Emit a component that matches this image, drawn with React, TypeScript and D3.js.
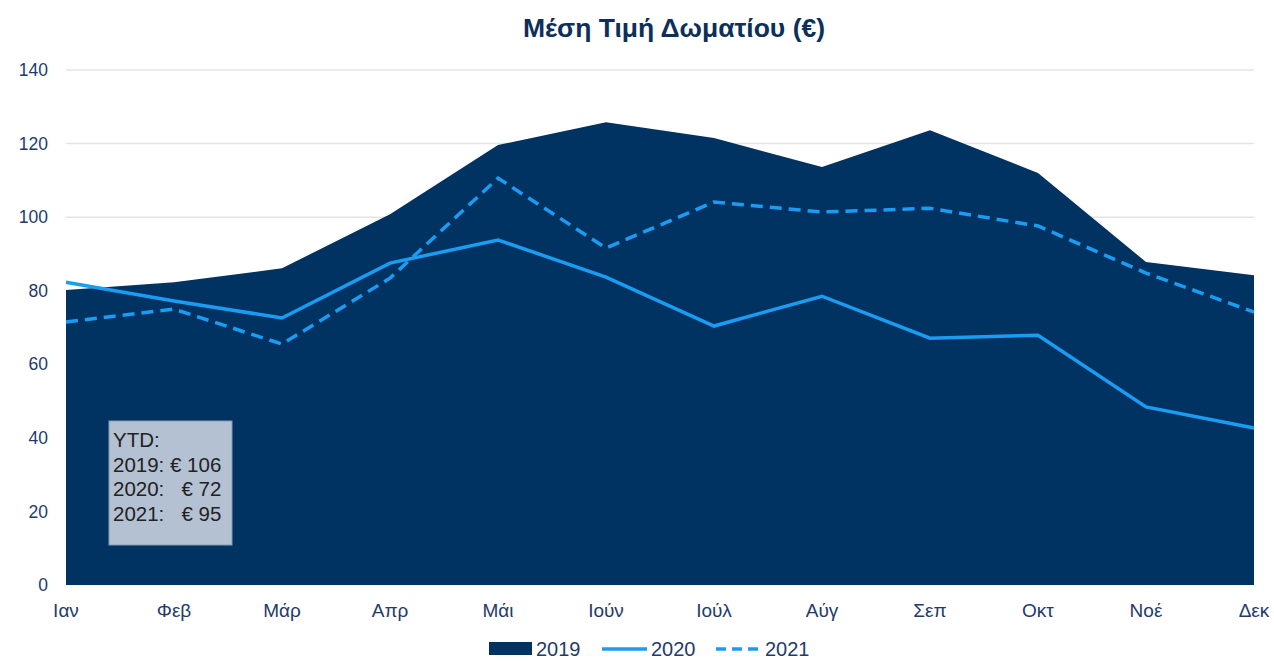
import React, { useEffect, useRef } from 'react'
import * as d3 from 'd3'

const months = ['Ιαν', 'Φεβ', 'Μάρ', 'Απρ', 'Μάι', 'Ιούν', 'Ιούλ', 'Αύγ', 'Σεπ', 'Οκτ', 'Νοέ', 'Δεκ']
const v2019 = [80.2, 82.3, 86.1, 100.8, 119.6, 125.8, 121.5, 113.6, 123.6, 112, 87.8, 84.2]
const v2020 = [82.3, 77.2, 72.6, 87.5, 93.8, 83.7, 70.4, 78.5, 67.1, 67.9, 48.4, 42.7]
const v2021 = [71.5, 75, 65.5, 83.4, 110.6, 91.6, 104.1, 101.4, 102.4, 97.6, 84.8, 74.2]
const yTicks = [0, 20, 40, 60, 80, 100, 120, 140]
const ytdLines = ['YTD:', '2019: € 106', '2020:   € 72', '2021:   € 95']

const NAVY = '#003262'
const BLUE = '#1a9cf2'
const TXT = '#1f3b6b'

function App() {
  const svgRef = useRef<SVGSVGElement>(null)
  const W = 1274
  const H = 661
  const margin = { top: 70, right: 20, bottom: 76, left: 66 }

  useEffect(() => {
    const svg = d3.select(svgRef.current)
    svg.selectAll('*').remove()
    const font = 'Arial, "Liberation Sans", sans-serif'

    const x = d3.scalePoint<string>().domain(months).range([margin.left, W - margin.right])
    const y = d3.scaleLinear().domain([0, 140]).range([H - margin.bottom, margin.top])

    // gridlines
    svg.append('g')
      .selectAll('line')
      .data(yTicks.filter(d => d > 0))
      .join('line')
      .attr('x1', margin.left)
      .attr('x2', W - margin.right)
      .attr('y1', d => y(d))
      .attr('y2', d => y(d))
      .attr('stroke', '#e4e4e4')
      .attr('stroke-width', 1.5)

    svg.append('g')
      .selectAll('text')
      .data(yTicks)
      .join('text')
      .attr('x', margin.left - 18)
      .attr('y', d => y(d))
      .attr('dy', '0.35em')
      .attr('text-anchor', 'end')
      .attr('font-family', font)
      .attr('font-size', 17.5)
      .attr('fill', TXT)
      .text(d => d)

    const area = d3.area<number>()
      .x((d, i) => x(months[i])!)
      .y0(y(0))
      .y1(d => y(d))
    svg.append('path').datum(v2019).attr('d', area).attr('fill', NAVY)

    const line = d3.line<number>()
      .x((d, i) => x(months[i])!)
      .y(d => y(d))
    svg.append('path').datum(v2020).attr('d', line)
      .attr('fill', 'none').attr('stroke', BLUE).attr('stroke-width', 3.5)
    svg.append('path').datum(v2021).attr('d', line)
      .attr('fill', 'none').attr('stroke', BLUE).attr('stroke-width', 3.5)
      .attr('stroke-dasharray', '12,7')

    // x labels
    svg.append('g')
      .selectAll('text')
      .data(months)
      .join('text')
      .attr('x', d => x(d)!)
      .attr('y', y(0) + 32)
      .attr('text-anchor', 'middle')
      .attr('font-family', font)
      .attr('font-size', 19)
      .attr('fill', TXT)
      .text(d => d)

    // title
    svg.append('text')
      .attr('x', 674)
      .attr('y', 37)
      .attr('text-anchor', 'middle')
      .attr('font-family', font)
      .attr('font-size', 26.5)
      .attr('font-weight', 'bold')
      .attr('fill', '#0d2f5c')
      .text('Μέση Τιμή Δωματίου (€)')

    // YTD box
    const box = svg.append('g').attr('transform', 'translate(109,421)')
    box.append('rect').attr('width', 123).attr('height', 124)
      .attr('fill', '#b4c1d2').attr('stroke', '#8a9bb3').attr('stroke-width', 1)
    box.selectAll('text.ytd')
      .data(ytdLines)
      .join('text')
      .attr('class', 'ytd')
      .attr('x', 4)
      .attr('y', (d, i) => 26 + i * 24.5)
      .attr('font-family', font)
      .attr('font-size', 20.5)
      .attr('fill', '#222')
      .attr('xml:space', 'preserve')
      .style('white-space', 'pre')
      .text(d => d)

    // legend
    const lg = svg.append('g').attr('transform', 'translate(0,649)')
    lg.append('rect').attr('x', 489).attr('y', -7).attr('width', 43).attr('height', 13).attr('fill', NAVY)
    lg.append('text').attr('x', 536).attr('y', 0).attr('dy', '0.35em')
      .attr('font-family', font).attr('font-size', 20).attr('fill', TXT).text('2019')
    lg.append('line').attr('x1', 602).attr('x2', 647).attr('y1', 0).attr('y2', 0)
      .attr('stroke', BLUE).attr('stroke-width', 3.5)
    lg.append('text').attr('x', 651).attr('y', 0).attr('dy', '0.35em')
      .attr('font-family', font).attr('font-size', 20).attr('fill', TXT).text('2020')
    lg.append('line').attr('x1', 716).attr('x2', 760).attr('y1', 0).attr('y2', 0)
      .attr('stroke', BLUE).attr('stroke-width', 3.5).attr('stroke-dasharray', '10,6')
    lg.append('text').attr('x', 765).attr('y', 0).attr('dy', '0.35em')
      .attr('font-family', font).attr('font-size', 20).attr('fill', TXT).text('2021')
  }, [])

  return (
    <svg ref={svgRef} width={W} height={H}
      style={{ position: 'absolute', left: 0, top: 0, background: '#fff' }} />
  )
}

export default App
